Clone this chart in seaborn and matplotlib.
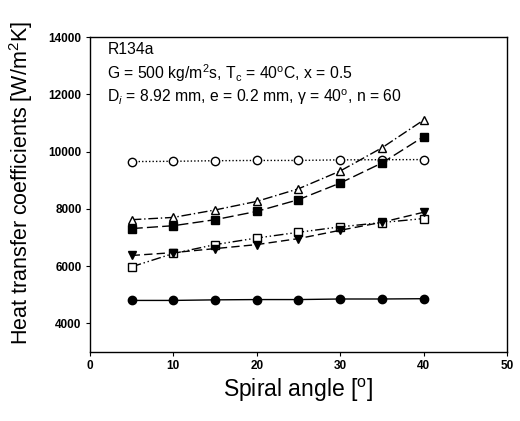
import matplotlib
matplotlib.use("Agg")
import matplotlib.pyplot as plt
import seaborn as sns
import pandas as pd

angles = [5, 10, 15, 20, 25, 30, 35, 40]
open_circle = [9650, 9660, 9680, 9690, 9690, 9710, 9715, 9720]
open_triangle = [7620, 7700, 7960, 8260, 8700, 9320, 10130, 11100]
filled_square = [7310, 7410, 7620, 7910, 8320, 8900, 9600, 10520]
open_square = [5975, 6440, 6750, 6980, 7180, 7370, 7520, 7660]
filled_tri_down = [6370, 6470, 6610, 6750, 6960, 7250, 7530, 7880]
filled_circle = [4800, 4800, 4820, 4830, 4830, 4850, 4850, 4860]

xticks = [0, 10, 20, 30, 40, 50]
yticks = [4000, 6000, 8000, 10000, 12000, 14000]

sns.set_style("ticks")
plt.rcParams['font.family'] = ['Liberation Sans', 'DejaVu Sans']
plt.rcParams['mathtext.fontset'] = 'custom'
plt.rcParams['mathtext.rm'] = 'Liberation Sans'
plt.rcParams['mathtext.it'] = 'Liberation Sans:italic'
plt.rcParams['mathtext.default'] = 'regular'
plt.rcParams['text.color'] = 'black'
plt.rcParams['axes.labelcolor'] = 'black'
plt.rcParams['xtick.color'] = 'black'
plt.rcParams['ytick.color'] = 'black'

fig = plt.figure(figsize=(5.2, 4.21), dpi=100)
ax = fig.add_axes([0.173, 0.164, 0.802, 0.748])

series = [
    (open_circle, 'o', 'white', (0, (1, 1.5))),
    (open_triangle, '^', 'white', (0, (7, 2, 1, 2))),
    (filled_square, 's', 'black', (0, (8, 3))),
    (open_square, 's', 'white', (0, (7, 2, 1, 2, 1, 2))),
    (filled_tri_down, 'v', 'black', (0, (6, 3))),
    (filled_circle, 'o', 'black', '-'),
]

for vals, mk, fc, ls in series:
    df = pd.DataFrame({'angle': angles, 'h': vals})
    sns.lineplot(data=df, x='angle', y='h', ax=ax, color='black', linewidth=1.0,
                 linestyle=ls, marker=mk, markersize=6, markerfacecolor=fc,
                 markeredgecolor='black', markeredgewidth=1.0)

ax.set_xlim(0, 50)
ax.set_ylim(3000, 14000)
ax.set_xticks(xticks)
ax.set_yticks(yticks)
ax.tick_params(axis='both', labelsize=8.5, length=3, width=0.8, direction='out', pad=3)
for lbl in ax.get_xticklabels() + ax.get_yticklabels():
    lbl.set_fontweight('bold')
for sp in ax.spines.values():
    sp.set_linewidth(1.0)
    sp.set_color('black')

ax.set_xlabel('Spiral angle [$^o$]', fontsize=16.5, labelpad=3)
ax.set_ylabel('Heat transfer coefficients [W/m$^2$K]', fontsize=15.5)
ax.yaxis.set_label_coords(-0.132, 0.535)

fs = 11.3
ax.text(0.042, 0.962, 'R134a', transform=ax.transAxes, fontsize=fs, va='center')
ax.text(0.042, 0.886, 'G = 500 kg/m$^2$s, T$_c$ = 40$^o$C, x = 0.5', transform=ax.transAxes, fontsize=fs, va='center')
ax.text(0.042, 0.808, 'D$_{\\mathit{i}}$ = 8.92 mm, e = 0.2 mm, $\\gamma$ = 40$^o$, n = 60', transform=ax.transAxes, fontsize=fs, va='center')

fig.savefig('out.png', dpi=100)
